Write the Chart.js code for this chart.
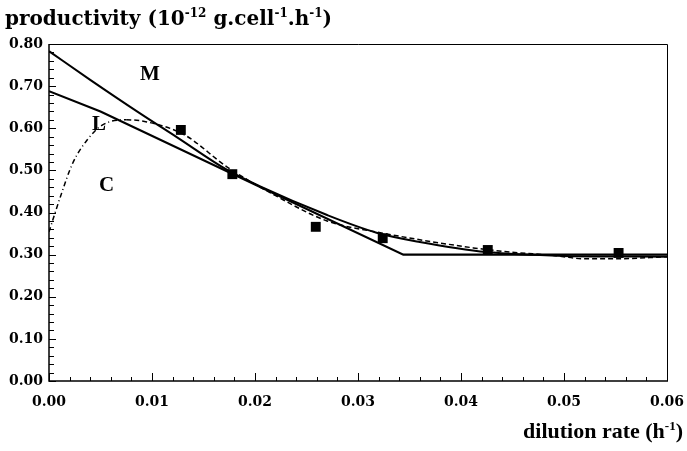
<!DOCTYPE html>
<html>
<head>
<meta charset="utf-8">
<script src="https://cdn.jsdelivr.net/npm/chart.js@4.4.1/dist/chart.umd.min.js"></script>
<style>
    html, body { margin: 0; padding: 0; background: #fff; }
    #wrap { width: 687px; height: 451px; position: relative; }
</style>
</head>
<body>
<div id="wrap"><canvas id="myChart" width="687" height="451"></canvas></div>
<script>
// measured points (squares)
const dilution = [0.0128, 0.0178, 0.0259, 0.0324, 0.0426, 0.0553];
const productivity = [0.596, 0.491, 0.366, 0.339, 0.311, 0.304];

// curve M
const mX = [0, 0.004, 0.0088, 0.0124, 0.0173, 0.0205, 0.027, 0.0318, 0.036, 0.0425, 0.05, 0.06];
const mY = [0.783, 0.715, 0.636, 0.579, 0.501, 0.462, 0.394, 0.352, 0.330, 0.306, 0.297, 0.295];

// curve L (linear then plateau)
const lX = [0, 0.005, 0.0344, 0.06];
const lY = [0.688, 0.640, 0.300, 0.300];

// curve C
const cX = [0, 0.0011, 0.0023, 0.0037, 0.0052, 0.0075, 0.0095, 0.0131, 0.0173, 0.022, 0.027, 0.0324, 0.0412, 0.0448, 0.049, 0.052, 0.055, 0.06];
const cY = [0.354, 0.437, 0.517, 0.572, 0.608, 0.620, 0.615, 0.585, 0.508, 0.440, 0.380, 0.351, 0.316, 0.306, 0.298, 0.290, 0.290, 0.295];

const xTicks = [0, 0.01, 0.02, 0.03, 0.04, 0.05, 0.06];
const yTicks = [0, 0.1, 0.2, 0.3, 0.4, 0.5, 0.6, 0.7, 0.8];

function toPoints(xs, ys) {
    return xs.map((x, i) => ({ x: x, y: ys[i] }));
}

const serif = '"Liberation Serif", "DejaVu Serif", serif';
const wideSerif = '"DejaVu Serif", serif';

// draws frame, inward ticks, titles and curve labels
const decorations = {
    id: 'decorations',
    afterDraw(chart) {
        const ctx = chart.ctx;
        const a = chart.chartArea;
        const xs = chart.scales.x;
        const ys = chart.scales.y;
        ctx.save();
        ctx.strokeStyle = '#000';
        ctx.lineWidth = 1;
        ctx.beginPath();
        ctx.moveTo(a.left, a.top + 0.5);
        ctx.lineTo(a.right + 0.5, a.top + 0.5);
        ctx.lineTo(a.right + 0.5, a.bottom);
        ctx.stroke();
        ctx.lineWidth = 1.5;
        ctx.beginPath();
        ctx.moveTo(a.left, a.top);
        ctx.lineTo(a.left, a.bottom);
        ctx.lineTo(a.right + 1, a.bottom);
        ctx.stroke();

        ctx.lineWidth = 1;
        ctx.beginPath();
        for (let i = 0; i <= 30; i++) {
            const v = i * 0.002;
            const px = Math.round(xs.getPixelForValue(v)) + 0.5;
            const len = i % 5 === 0 ? 8 : 4;
            ctx.moveTo(px, a.bottom);
            ctx.lineTo(px, a.bottom - len);
        }
        for (let i = 0; i <= 40; i++) {
            const v = i * 0.02;
            const py = Math.round(ys.getPixelForValue(v)) + 0.5;
            const len = i % 5 === 0 ? 7 : 5;
            ctx.moveTo(a.left, py);
            ctx.lineTo(a.left + len, py);
        }
        ctx.stroke();

        ctx.fillStyle = '#000';
        ctx.textBaseline = 'alphabetic';
        ctx.textAlign = 'left';

        // y axis title with superscripts
        const parts = [
            ['productivity (10', false], ['-12', true], [' g.cell', false],
            ['-1', true], ['.h', false], ['-1', true], [')', false]
        ];
        drawRich(ctx, parts, 5, 25, 20, 12, wideSerif, 8);

        // x axis title
        const xparts = [['dilution rate (h', false], ['-1', true], [')', false]];
        const w = richWidth(ctx, xparts, 22, 13, serif);
        drawRich(ctx, xparts, 683 - w, 438, 22, 13, serif, 8);

        // curve labels
        ctx.font = 'bold 21px ' + serif;
        ctx.fillText('M', 140, 80);
        ctx.fillText('L', 92, 130);
        ctx.fillText('C', 99, 191);
        ctx.restore();
    }
};

function richWidth(ctx, parts, big, small, family) {
    let w = 0;
    parts.forEach(p => {
        ctx.font = 'bold ' + (p[1] ? small : big) + 'px ' + family;
        w += ctx.measureText(p[0]).width;
    });
    return w;
}

function drawRich(ctx, parts, x, y, big, small, family, rise) {
    parts.forEach(p => {
        ctx.font = 'bold ' + (p[1] ? small : big) + 'px ' + family;
        ctx.fillText(p[0], x, p[1] ? y - rise : y);
        x += ctx.measureText(p[0]).width;
    });
}

function createChart() {
    const ctx = document.getElementById('myChart').getContext('2d');
    new Chart(ctx, {
        type: 'scatter',
        data: {
            datasets: [
                {
                    label: 'data',
                    data: toPoints(dilution, productivity),
                    showLine: false,
                    pointStyle: 'rect',
                    pointRadius: 7,
                    backgroundColor: '#000',
                    borderColor: '#000',
                    borderWidth: 0,
                    order: 0
                },
                {
                    label: 'M',
                    data: toPoints(mX, mY),
                    showLine: true,
                    pointRadius: 0,
                    borderColor: '#000',
                    borderWidth: 2,
                    cubicInterpolationMode: 'monotone'
                },
                {
                    label: 'L',
                    data: toPoints(lX, lY),
                    showLine: true,
                    pointRadius: 0,
                    borderColor: '#000',
                    borderWidth: 2.2,
                    tension: 0
                },
                {
                    label: 'C',
                    data: toPoints(cX, cY),
                    showLine: true,
                    pointRadius: 0,
                    borderColor: '#000',
                    borderWidth: 1.5,
                    cubicInterpolationMode: 'monotone',
                    segment: {
                        borderDash: c => c.p0.parsed.x < 0.0075 ? [5, 3, 1, 3] : [5, 3]
                    }
                }
            ]
        },
        options: {
            responsive: false,
            animation: false,
            layout: { padding: { top: 44, right: 0, left: 0, bottom: 0 } },
            plugins: {
                legend: { display: false },
                tooltip: { enabled: false }
            },
            scales: {
                x: {
                    type: 'linear',
                    min: 0,
                    max: 0.06,
                    afterBuildTicks: s => { s.ticks = xTicks.map(v => ({ value: v })); },
                    afterFit: s => { s.height = 70; s.paddingRight = 20; },
                    grid: { display: false, drawTicks: false },
                    border: { display: false },
                    ticks: {
                        padding: 13,
                        color: '#000',
                        font: { family: wideSerif, size: 14, weight: 'bold' },
                        callback: v => v.toFixed(2),
                        maxRotation: 0
                    }
                },
                y: {
                    type: 'linear',
                    min: 0,
                    max: 0.8,
                    afterBuildTicks: s => { s.ticks = yTicks.map(v => ({ value: v })); },
                    afterFit: s => { s.width = 49; },
                    grid: { display: false, drawTicks: false },
                    border: { display: false },
                    ticks: {
                        padding: 6,
                        color: '#000',
                        font: { family: wideSerif, size: 14, weight: 'bold' },
                        callback: v => v.toFixed(2)
                    }
                }
            }
        },
        plugins: [decorations]
    });
}

createChart();
</script>
</body>
</html>
